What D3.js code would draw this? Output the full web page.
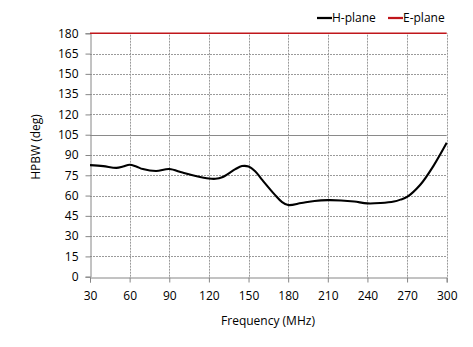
<!DOCTYPE html>
<html><head><meta charset="utf-8">
<script src="https://cdn.jsdelivr.net/npm/d3@7"></script>
<style>
html,body{margin:0;padding:0;background:#fff;}
svg{display:block;font-family:"Open Sans","Liberation Sans",sans-serif;}
</style></head>
<body>
<svg id="chart" width="473" height="347"></svg>
<script>
const freqs = [30,40,50,55,60,65,70,80,90,100,110,120,125,130,140,145,150,155,160,170,175,180,190,200,210,220,230,240,250,260,265,270,280,290,300];
const hPlane = [82.5,81.8,80.5,81.5,82.8,81.5,79.6,78.2,79.6,77,74.5,72.6,72.4,73.5,79.5,81.8,81.5,78,72,60.5,55.5,53,54.5,56,56.6,56.4,55.6,54.2,54.5,55.6,57,59,68,82,99];
const eFreqs = [30,300];
const ePlane = [180,180];
const xTicks = [30,60,90,120,150,180,210,240,270,300];
const yTicks = [0,15,30,45,60,75,90,105,120,135,150,165,180];
const seriesNames = ["H-plane","E-plane"];
const seriesColors = ["#000000","#c0161b"];

const svg = d3.select("#chart");
const x = d3.scaleLinear().domain([30,300]).range([90, 446.7]);
const y = d3.scaleLinear().domain([0,180]).range([276.7, 33.3]);

// grid
const g = svg.append("g");
g.selectAll(".hg").data(yTicks.filter(d=>d>0)).enter().append("line")
  .attr("x1", x(30)).attr("x2", x(300))
  .attr("y1", d=>Math.round(y(d))+0.5).attr("y2", d=>Math.round(y(d))+0.5)
  .attr("stroke", d=> d===105 ? "#8a8a8a" : "#9a9a9a")
  .attr("stroke-width",1)
  .attr("stroke-dasharray", d=> d===105 ? null : "2,1");
g.selectAll(".vg").data(xTicks.filter(d=>d>30)).enter().append("line")
  .attr("y1", y(0)).attr("y2", y(180))
  .attr("x1", d=>Math.round(x(d))+0.5).attr("x2", d=>Math.round(x(d))+0.5)
  .attr("stroke","#9a9a9a").attr("stroke-width",1).attr("stroke-dasharray","2,1");

// axes
const axisColor = "#868686";
const yAxis = svg.append("g").attr("transform",`translate(${Math.round(x(30))+0.5},0)`)
  .call(d3.axisLeft(y).tickValues(yTicks).tickSize(5).tickPadding(7).tickFormat(d3.format("d")));
const xAxis = svg.append("g").attr("transform",`translate(0,${Math.round(y(0))+0.5})`)
  .call(d3.axisBottom(x).tickValues(xTicks).tickSize(5).tickPadding(9).tickFormat(d3.format("d")));
[yAxis,xAxis].forEach(a=>{
  a.select(".domain").attr("stroke",axisColor);
  a.selectAll(".tick line").attr("stroke",axisColor);
  a.selectAll("text").attr("fill","#000").style("font-size","12px")
   .style("font-family",'"Open Sans","Liberation Sans",sans-serif');
});

// lines
const line = d3.line().x(d=>x(d[0])).y(d=>y(d[1]));
svg.append("path").datum(eFreqs.map((f,i)=>[f,ePlane[i]]))
  .attr("d", line).attr("fill","none").attr("stroke",seriesColors[1]).attr("stroke-width",1.5);
svg.append("path").datum(freqs.map((f,i)=>[f,hPlane[i]]))
  .attr("d", d3.line().x(d=>x(d[0])).y(d=>y(d[1])).curve(d3.curveCatmullRom.alpha(0.5)))
  .attr("fill","none").attr("stroke",seriesColors[0]).attr("stroke-width",2.1)
  .attr("stroke-linejoin","round");

// axis titles
svg.append("text").attr("x", 268).attr("y", 325).attr("text-anchor","middle")
  .style("font-size","12px").text("Frequency (MHz)");
svg.append("text").attr("transform","translate(40,147) rotate(-90)").attr("text-anchor","middle")
  .style("font-size","12px").text("HPBW (deg)");

// legend
const legX = [317, 388];
seriesNames.forEach((n,i)=>{
  const lg = svg.append("g").attr("transform",`translate(${legX[i]},18)`);
  lg.append("line").attr("x1",0).attr("x2",15).attr("y1",0).attr("y2",0)
    .attr("stroke",seriesColors[i]).attr("stroke-width",2.25);
  lg.append("text").attr("x",15).attr("y",4).style("font-size","12px").text(n);
});
</script>
</body></html>
